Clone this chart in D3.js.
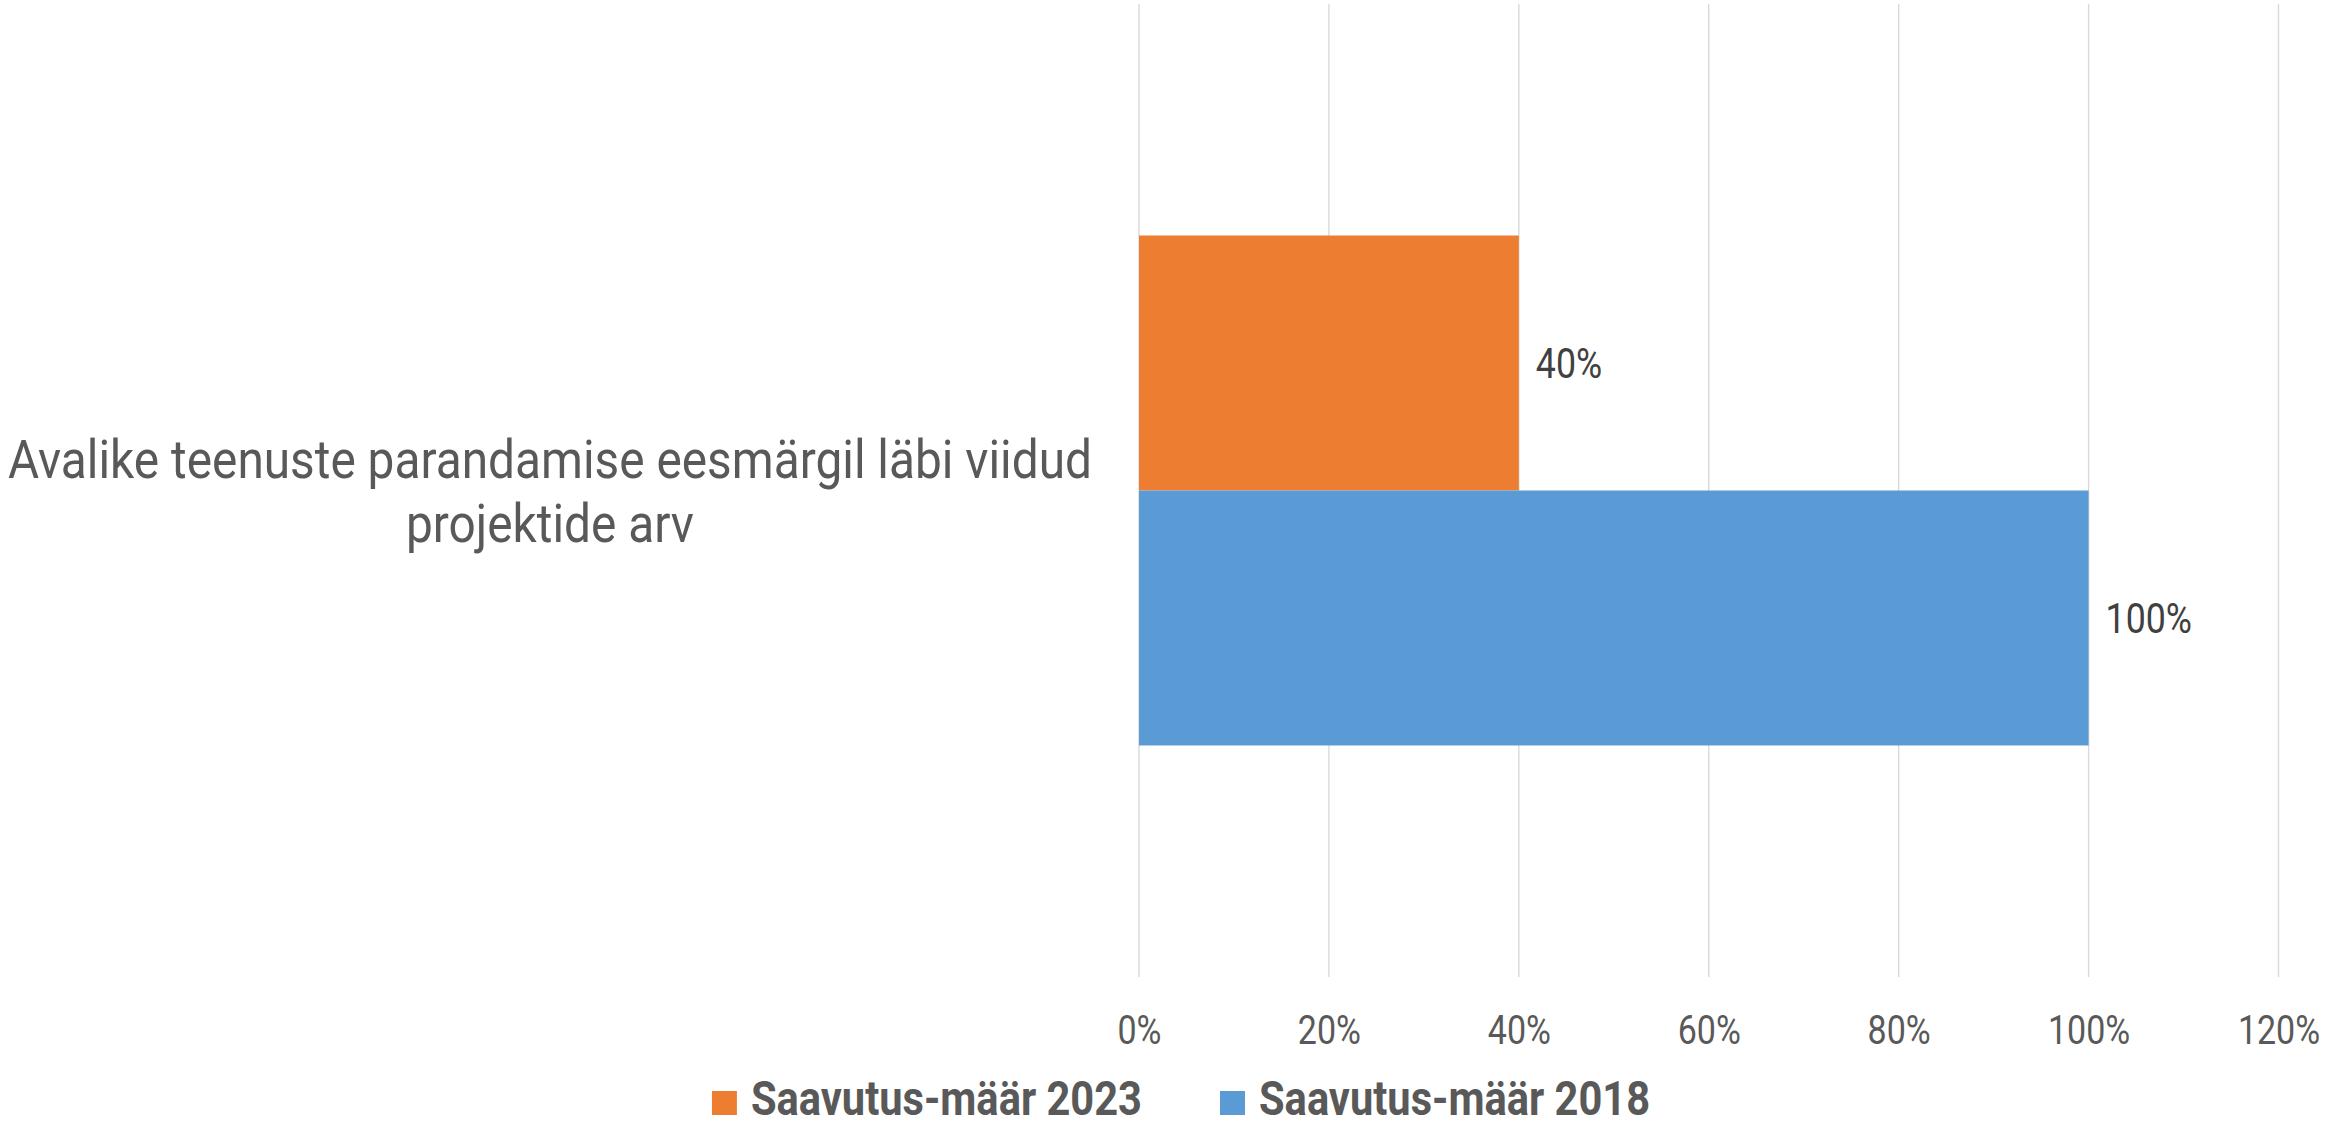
<!DOCTYPE html>
<html>
<head>
<meta charset="utf-8">
<script src="https://cdn.jsdelivr.net/npm/d3@7.9.0/dist/d3.min.js"></script>
<style>
  html, body { margin: 0; padding: 0; background: #fff; }
  svg { display: block; font-family: Roboto, "Liberation Sans", sans-serif; }
</style>
</head>
<body>
<svg id="chart" width="2345" height="1128"></svg>
<script>
const categories = ['Avalike teenuste parandamise eesmärgil läbi viidud projektide arv'];
const seriesNames = ['Saavutus-määr 2023', 'Saavutus-määr 2018'];
const seriesValues = [[0.4], [1.0]];
const seriesColors = ['#ED7D31', '#5B9BD5'];
const tickValues = [0, 0.2, 0.4, 0.6, 0.8, 1.0, 1.2];

const W = 2345, H = 1128;
const margin = { top: 4, right: 66.5, bottom: 151, left: 1139 };
const squeeze = 0.85; // condensed look

const svg = d3.select('#chart');

const x = d3.scaleLinear()
  .domain([0, 1.2])
  .range([margin.left, W - margin.right]);

const y = d3.scaleBand()
  .domain(categories)
  .range([margin.top, H - margin.bottom])
  .paddingInner(0)
  .paddingOuter(0.454);

const ySub = d3.scaleBand()
  .domain(seriesNames)
  .range([0, y.bandwidth()]);

function condense(sel, k = squeeze) {
  sel.each(function () {
    const len = this.getComputedTextLength();
    d3.select(this)
      .attr('textLength', len * k)
      .attr('lengthAdjust', 'spacingAndGlyphs');
  });
}

// gridlines
svg.append('g')
  .selectAll('line')
  .data(tickValues)
  .join('line')
  .attr('x1', d => x(d))
  .attr('x2', d => x(d))
  .attr('y1', margin.top)
  .attr('y2', H - margin.bottom)
  .attr('stroke', '#D9D9D9')
  .attr('stroke-width', 1.4);

// bars
const rows = [];
categories.forEach((c, ci) => {
  seriesNames.forEach((s, si) => {
    rows.push({ cat: c, series: s, value: seriesValues[si][ci], color: seriesColors[si] });
  });
});

svg.append('g')
  .selectAll('rect')
  .data(rows)
  .join('rect')
  .attr('x', x(0))
  .attr('y', d => y(d.cat) + ySub(d.series))
  .attr('width', d => x(d.value) - x(0))
  .attr('height', ySub.bandwidth())
  .attr('fill', d => d.color);

// data labels
svg.append('g')
  .selectAll('text')
  .data(rows)
  .join('text')
  .attr('x', d => x(d.value) + 17)
  .attr('y', d => y(d.cat) + ySub(d.series) + ySub.bandwidth() / 2)
  .attr('dy', '0.36em')
  .attr('font-size', 42)
  .attr('fill', '#404040')
  .text(d => d3.format('.0%')(d.value))
  .call(condense);

// x axis tick labels
const xAxis = svg.append('g')
  .attr('transform', `translate(0,${H - margin.bottom})`)
  .call(d3.axisBottom(x).tickValues(tickValues).tickFormat(d3.format('.0%')).tickSize(0).tickPadding(0));
xAxis.select('.domain').remove();
xAxis.selectAll('text')
  .attr('y', 67)
  .attr('dy', 0)
  .attr('font-size', 40)
  .attr('font-family', 'Roboto, sans-serif')
  .attr('fill', '#595959')
  .call(condense);

// category label (wrapped, centred)
const catX = 550;
const lineH = 63.5;
const catSqueeze = 0.885;
categories.forEach(c => {
  const t = svg.append('text')
    .attr('text-anchor', 'middle')
    .attr('font-size', 54)
    .attr('fill', '#595959');
  const words = c.split(' ');
  const lines = [];
  let cur = [];
  const probe = svg.append('text').attr('font-size', 54).attr('visibility', 'hidden');
  words.forEach(w => {
    const test = cur.concat(w).join(' ');
    probe.text(test);
    if (probe.node().getComputedTextLength() * catSqueeze > 1120 && cur.length) {
      lines.push(cur.join(' '));
      cur = [w];
    } else {
      cur.push(w);
    }
  });
  lines.push(cur.join(' '));
  probe.remove();
  const cy = y(c) + y.bandwidth() / 2;
  const first = cy - (lines.length - 1) * lineH / 2;
  lines.forEach((ln, i) => {
    t.append('tspan')
      .attr('x', catX)
      .attr('y', first + i * lineH)
      .attr('dy', '0.36em')
      .text(ln);
  });
  t.selectAll('tspan').call(condense, catSqueeze);
});

// legend
const legend = svg.append('g');
const items = legend.selectAll('g')
  .data(seriesNames)
  .join('g');
items.append('rect')
  .attr('width', 25)
  .attr('height', 24)
  .attr('y', -24)
  .attr('fill', (d, i) => seriesColors[i]);
items.append('text')
  .attr('x', 39)
  .attr('font-size', 48)
  .attr('font-weight', 'bold')
  .attr('fill', '#595959')
  .text(d => d)
  .call(condense, 0.867);

let offset = 0;
const gap = 78;
items.each(function () {
  const w = 39 + +d3.select(this).select('text').attr('textLength');
  d3.select(this).attr('transform', `translate(${offset},0)`);
  offset += w + gap;
});
const totalW = offset - gap;
legend.attr('transform', `translate(${1181 - totalW / 2},1115)`);
</script>
</body>
</html>
